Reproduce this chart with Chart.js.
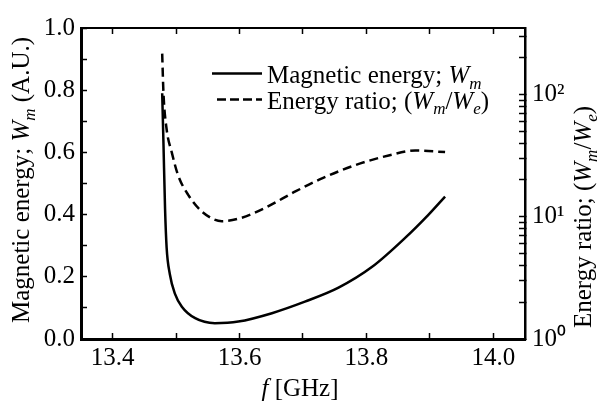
<!DOCTYPE html>
<html>
<head>
<meta charset="utf-8">
<script src="https://cdn.jsdelivr.net/npm/chart.js@4.4.1/dist/chart.umd.min.js"></script>
<style>
    html, body { margin: 0; padding: 0; background: #fff; }
    #wrap { width: 598px; height: 402px; }
</style>
</head>
<body>
<div id="wrap"><canvas id="chart" width="598" height="402"></canvas></div>
<script>
// Energía magnética W_m (eje izquierdo, A.U.)
const freqWm = [13.478, 13.480, 13.4825, 13.485, 13.490, 13.498, 13.509, 13.530, 13.561,
    13.598, 13.651, 13.703, 13.756, 13.809, 13.861, 13.898, 13.924];
const wm = [0.79, 0.63, 0.42, 0.294, 0.209, 0.146, 0.104, 0.067, 0.051,
    0.056, 0.083, 0.120, 0.165, 0.232, 0.325, 0.400, 0.458];

// Relación de energía W_m/W_e (eje derecho, logarítmico)
const freqRatio = [13.478, 13.480, 13.485, 13.493, 13.503, 13.519, 13.540, 13.572,
    13.603, 13.640, 13.688, 13.730, 13.782, 13.835, 13.877, 13.924];
const ratio = [216, 103, 52, 33.8, 21.9, 15.1, 11.1, 9.2,
    9.8, 11.8, 16.1, 20.6, 26.4, 31.7, 34.8, 33.8];

// Marcas y etiquetas de los ejes
const xTickValues = [13.4, 13.5, 13.6, 13.7, 13.8, 13.9, 14.0];
const xTickLabels = [13.4, 13.6, 13.8, 14.0];
const yTickLabels = [0.0, 0.2, 0.4, 0.6, 0.8, 1.0];
const ratioTickLabels = { 1: '10\u2070', 10: '10\u00B9', 100: '10\u00B2' };

const SERIF = "'Liberation Serif', 'Times New Roman', serif";
const TAM = 25;
Chart.defaults.font.family = SERIF;
Chart.defaults.color = '#000';

function tieneEtiqueta(lista, v) {
    return lista.some(t => Math.abs(t - v) < 1e-6);
}

// Texto con cursiva y subíndices
function fuente(r, size) {
    const s = r.sub ? Math.round(size * 0.68) : size;
    return (r.italic ? 'italic ' : '') + s + 'px ' + SERIF;
}
function dibujarTexto(ctx, runs, x, y, size, align) {
    let w = 0;
    runs.forEach(r => { ctx.font = fuente(r, size); w += ctx.measureText(r.t).width; });
    let cx = align === 'center' ? x - w / 2 : x;
    ctx.textAlign = 'left';
    ctx.textBaseline = 'alphabetic';
    runs.forEach(r => {
        ctx.font = fuente(r, size);
        ctx.fillText(r.t, cx, y + (r.sub ? size * 0.22 : 0));
        cx += ctx.measureText(r.t).width;
    });
}

const textosPlugin = {
    id: 'textos',
    afterDraw(chart) {
        const ctx = chart.ctx;
        ctx.save();
        ctx.fillStyle = '#000';

        // Título eje X
        dibujarTexto(ctx, [{ t: 'f', italic: true }, { t: ' [GHz]' }], 300, 396, TAM, 'center');

        // Título eje izquierdo
        ctx.save();
        ctx.translate(29, 180);
        ctx.rotate(-Math.PI / 2);
        dibujarTexto(ctx, [{ t: 'Magnetic energy; ' }, { t: 'W', italic: true }, { t: 'm', italic: true, sub: true },
            { t: ' (A.U.)' }], 0, 0, TAM, 'center');
        ctx.restore();

        // Título eje derecho
        ctx.save();
        ctx.translate(591, 217);
        ctx.rotate(-Math.PI / 2);
        dibujarTexto(ctx, [{ t: 'Energy ratio; (' }, { t: 'W', italic: true }, { t: 'm', italic: true, sub: true },
            { t: '/' }, { t: 'W', italic: true }, { t: 'e', italic: true, sub: true }, { t: ')' }], 0, 0, TAM, 'center');
        ctx.restore();

        // Leyenda
        ctx.strokeStyle = '#000';
        ctx.lineWidth = 2.5;
        ctx.beginPath();
        ctx.moveTo(212, 73.5);
        ctx.lineTo(262, 73.5);
        ctx.stroke();
        ctx.setLineDash([9, 4]);
        ctx.beginPath();
        ctx.moveTo(217, 99.5);
        ctx.lineTo(262, 99.5);
        ctx.stroke();
        ctx.setLineDash([]);
        dibujarTexto(ctx, [{ t: 'Magnetic energy; ' }, { t: 'W', italic: true }, { t: 'm', italic: true, sub: true }],
            267, 83, TAM, 'left');
        dibujarTexto(ctx, [{ t: 'Energy ratio; (' }, { t: 'W', italic: true }, { t: 'm', italic: true, sub: true },
            { t: '/' }, { t: 'W', italic: true }, { t: 'e', italic: true, sub: true }, { t: ')' }], 267, 108.5, TAM, 'left');
        ctx.restore();
    }
};

const gridComun = {
    drawOnChartArea: false,
    drawTicks: true,
    tickLength: -6,
    tickColor: '#000',
    tickWidth: 1.5
};

const marcasX = s => { s.ticks = xTickValues.map(v => ({ value: v })); };

new Chart(document.getElementById('chart').getContext('2d'), {
    type: 'line',
    data: {
        datasets: [{
            label: 'Magnetic energy',
            data: freqWm.map((f, i) => ({ x: f, y: wm[i] })),
            yAxisID: 'y',
            borderColor: '#000',
            borderWidth: 2.5,
            pointRadius: 0,
            fill: false,
            cubicInterpolationMode: 'monotone'
        }, {
            label: 'Energy ratio',
            data: freqRatio.map((f, i) => ({ x: f, y: ratio[i] })),
            yAxisID: 'y2',
            borderColor: '#000',
            borderWidth: 2.5,
            borderDash: [9, 5],
            pointRadius: 0,
            fill: false,
            cubicInterpolationMode: 'monotone'
        }]
    },
    options: {
        responsive: false,
        animation: false,
        layout: { padding: 0 },
        plugins: {
            legend: { display: false },
            tooltip: { enabled: false }
        },
        scales: {
            x: {
                type: 'linear',
                position: 'bottom',
                min: 13.35,
                max: 14.05,
                grid: gridComun,
                border: { display: true, color: '#000', width: 3 },
                afterBuildTicks: marcasX,
                ticks: {
                    autoSkip: false,
                    maxRotation: 0,
                    padding: 10,
                    font: { size: TAM },
                    callback: v => tieneEtiqueta(xTickLabels, v) ? v.toFixed(1) : ''
                },
                afterFit: s => { s.height = 63; }
            },
            x2: {
                type: 'linear',
                position: 'top',
                min: 13.35,
                max: 14.05,
                grid: gridComun,
                border: { display: true, color: '#000', width: 2 },
                afterBuildTicks: marcasX,
                ticks: {
                    autoSkip: false,
                    callback: () => ''
                },
                afterFit: s => { s.height = 23.5; }
            },
            y: {
                type: 'linear',
                position: 'left',
                min: 0,
                max: 1,
                grid: gridComun,
                border: { display: true, color: '#000', width: 3 },
                ticks: {
                    stepSize: 0.1,
                    autoSkip: false,
                    padding: 12,
                    font: { size: TAM },
                    callback: v => tieneEtiqueta(yTickLabels, v) ? v.toFixed(1) : ''
                },
                afterFit: s => { s.width = 81; }
            },
            y2: {
                type: 'logarithmic',
                position: 'right',
                min: 1,
                max: 350,
                grid: gridComun,
                border: { display: true, color: '#000', width: 2.5 },
                afterBuildTicks: s => {
                    const t = [];
                    for (let e = 1; e <= 100; e *= 10) {
                        for (let k = 1; k <= 9; k++) {
                            if (k * e <= 350) t.push({ value: k * e });
                        }
                    }
                    s.ticks = t;
                },
                ticks: {
                    autoSkip: false,
                    padding: 13,
                    font: { size: TAM },
                    callback: v => ratioTickLabels[v] || ''
                },
                afterFit: s => { s.width = 73; }
            }
        }
    },
    plugins: [textosPlugin]
});
</script>
</body>
</html>
